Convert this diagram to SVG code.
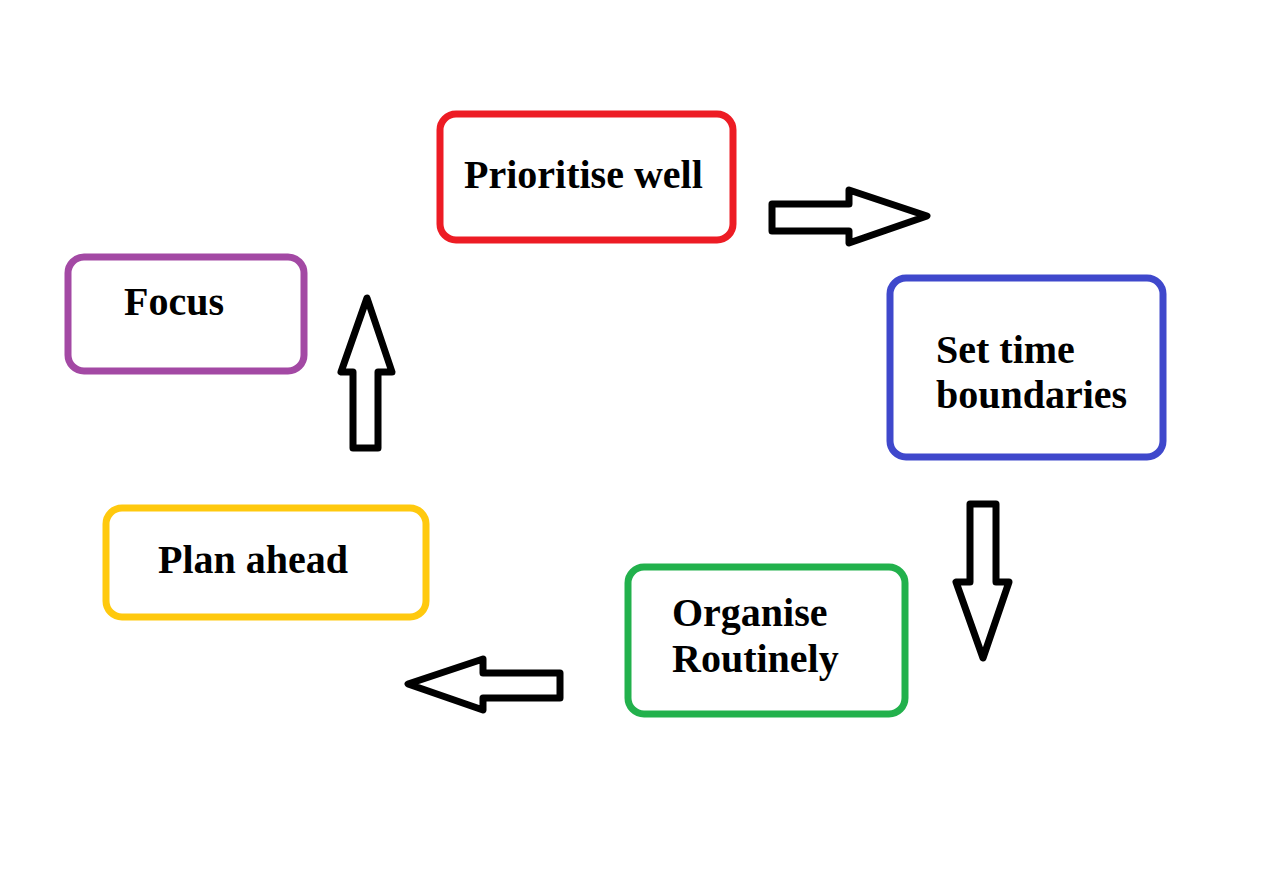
<svg xmlns="http://www.w3.org/2000/svg" width="1280" height="870" viewBox="0 0 1280 870">
<style>
.box{fill:#fff;stroke-width:7}
.lbl{font-family:"Liberation Serif","Times New Roman",serif;font-weight:bold;font-size:40px;fill:#000}
.arr{fill:#fff;stroke:#000;stroke-width:7;stroke-linejoin:round}
</style>
<rect width="1280" height="870" fill="#fff"/>
<g id="prioritise">
<rect class="box" x="440" y="114" width="293" height="126" rx="16" stroke="#ED1C24"/>
<text class="lbl" x="464" y="188">Prioritise well</text>
</g>
<g id="set-time">
<rect class="box" x="890" y="278" width="273" height="179" rx="16" stroke="#3F48CC"/>
<text class="lbl" x="936" y="363">Set time</text>
<text class="lbl" x="936" y="408">boundaries</text>
</g>
<g id="organise">
<rect class="box" x="628" y="567" width="277" height="147" rx="16" stroke="#22B14C"/>
<text class="lbl" x="672" y="626">Organise</text>
<text class="lbl" x="672" y="672">Routinely</text>
</g>
<g id="plan">
<rect class="box" x="106" y="508" width="320" height="109" rx="16" stroke="#FFC90E"/>
<text class="lbl" x="158" y="573">Plan ahead</text>
</g>
<g id="focus">
<rect class="box" x="68" y="257" width="236" height="114" rx="16" stroke="#A349A4"/>
<text class="lbl" x="124" y="315">Focus</text>
</g>
<g id="connectors">
<polygon class="arr" points="772,204 849,204 849,190 927,216 849,243 849,231 772,231"/>
<polygon class="arr" points="970,504 996,504 996,582 1009,582 983,658 956,582 970,582"/>
<polygon class="arr" points="560,673 483,673 483,659 408,684 483,710 483,698 560,698"/>
<polygon class="arr" points="353,448 378,448 378,372 392,372 367,298 341,372 353,372"/>
</g>
</svg>
